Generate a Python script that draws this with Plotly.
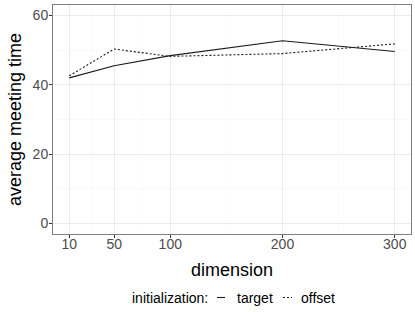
import plotly.graph_objects as go

dimension = [10, 50, 100, 200, 300]
target = [42.0, 45.5, 48.4, 52.7, 49.6]
offset = [42.6, 50.3, 48.2, 49.0, 51.8]
x_ticks = [10, 50, 100, 200, 300]
y_ticks = [0, 20, 40, 60]
x_minor = [30, 75, 150, 250]
y_minor = [10, 30, 50]

W, H = 415, 312
L, R, T, B = 53, 4, 5, 78
pw, ph = W - L - R, H - T - B

def px_x(p):
    return (p - L) / pw

def px_y(p):
    return (H - B - p) / ph

fig = go.Figure()
fig.add_trace(go.Scatter(x=dimension, y=target, mode="lines", name="target",
                         line=dict(color="#1a1a1a", width=1.1), showlegend=False))
fig.add_trace(go.Scatter(x=dimension, y=offset, mode="lines", name="offset",
                         line=dict(color="#1a1a1a", width=1.1, dash="2px,2px"), showlegend=False))

grid_major = "#ebebeb"
grid_minor = "#f5f5f5"
shapes = []
for v in x_minor:
    shapes.append(dict(type="line", xref="x", yref="paper", x0=v, x1=v, y0=0, y1=1,
                       line=dict(color=grid_minor, width=0.6), layer="below"))
for v in y_minor:
    shapes.append(dict(type="line", xref="paper", yref="y", x0=0, x1=1, y0=v, y1=v,
                       line=dict(color=grid_minor, width=0.6), layer="below"))

# legend keys
ly = px_y(297.5)
shapes.append(dict(type="line", xref="paper", yref="paper", x0=px_x(217), x1=px_x(225),
                   y0=ly, y1=ly, line=dict(color="#1a1a1a", width=1.1)))
shapes.append(dict(type="line", xref="paper", yref="paper", x0=px_x(283), x1=px_x(292),
                   y0=ly, y1=ly, line=dict(color="#1a1a1a", width=1.1, dash="2px,2px")))

annotations = [
    dict(text="initialization:", x=px_x(130), y=ly, xref="paper", yref="paper",
         xanchor="left", yanchor="middle", showarrow=False,
         font=dict(size=14, color="#000000")),
    dict(text="target", x=px_x(235), y=ly, xref="paper", yref="paper",
         xanchor="left", yanchor="middle", showarrow=False,
         font=dict(size=14, color="#000000")),
    dict(text="offset", x=px_x(299), y=ly, xref="paper", yref="paper",
         xanchor="left", yanchor="middle", showarrow=False,
         font=dict(size=14, color="#000000")),
]

fig.update_layout(
    width=W, height=H,
    margin=dict(l=L, r=R, t=T, b=B, pad=0),
    paper_bgcolor="white", plot_bgcolor="white",
    font=dict(family="Liberation Sans, Arial, sans-serif"),
    shapes=shapes, annotations=annotations,
    showlegend=False,
)
axis_common = dict(
    showline=True, mirror=True, linecolor="#7f7f7f", linewidth=1,
    showgrid=True, gridcolor=grid_major, gridwidth=1,
    zeroline=False, ticks="outside", ticklen=3, tickcolor="#333333", tickwidth=1,
    tickfont=dict(size=14, color="#4d4d4d"), automargin=False,
)
fig.update_xaxes(range=[-4.5, 314.5], tickvals=x_ticks, ticktext=[str(v) for v in x_ticks],
                 ticklabelstandoff=-6,
                 title=dict(text="dimension", font=dict(size=18, color="#000000"), standoff=12),
                 **axis_common)
fig.update_yaxes(range=[-3, 63], tickvals=y_ticks, ticktext=[str(v) for v in y_ticks],
                 ticklabelstandoff=-2,
                 title=dict(text="average meeting time", font=dict(size=18, color="#000000"), standoff=6),
                 **axis_common)

fig.write_html("out.html", config={"displayModeBar": False},
               post_script="document.body.style.margin='0';document.body.style.overflow='hidden';")
